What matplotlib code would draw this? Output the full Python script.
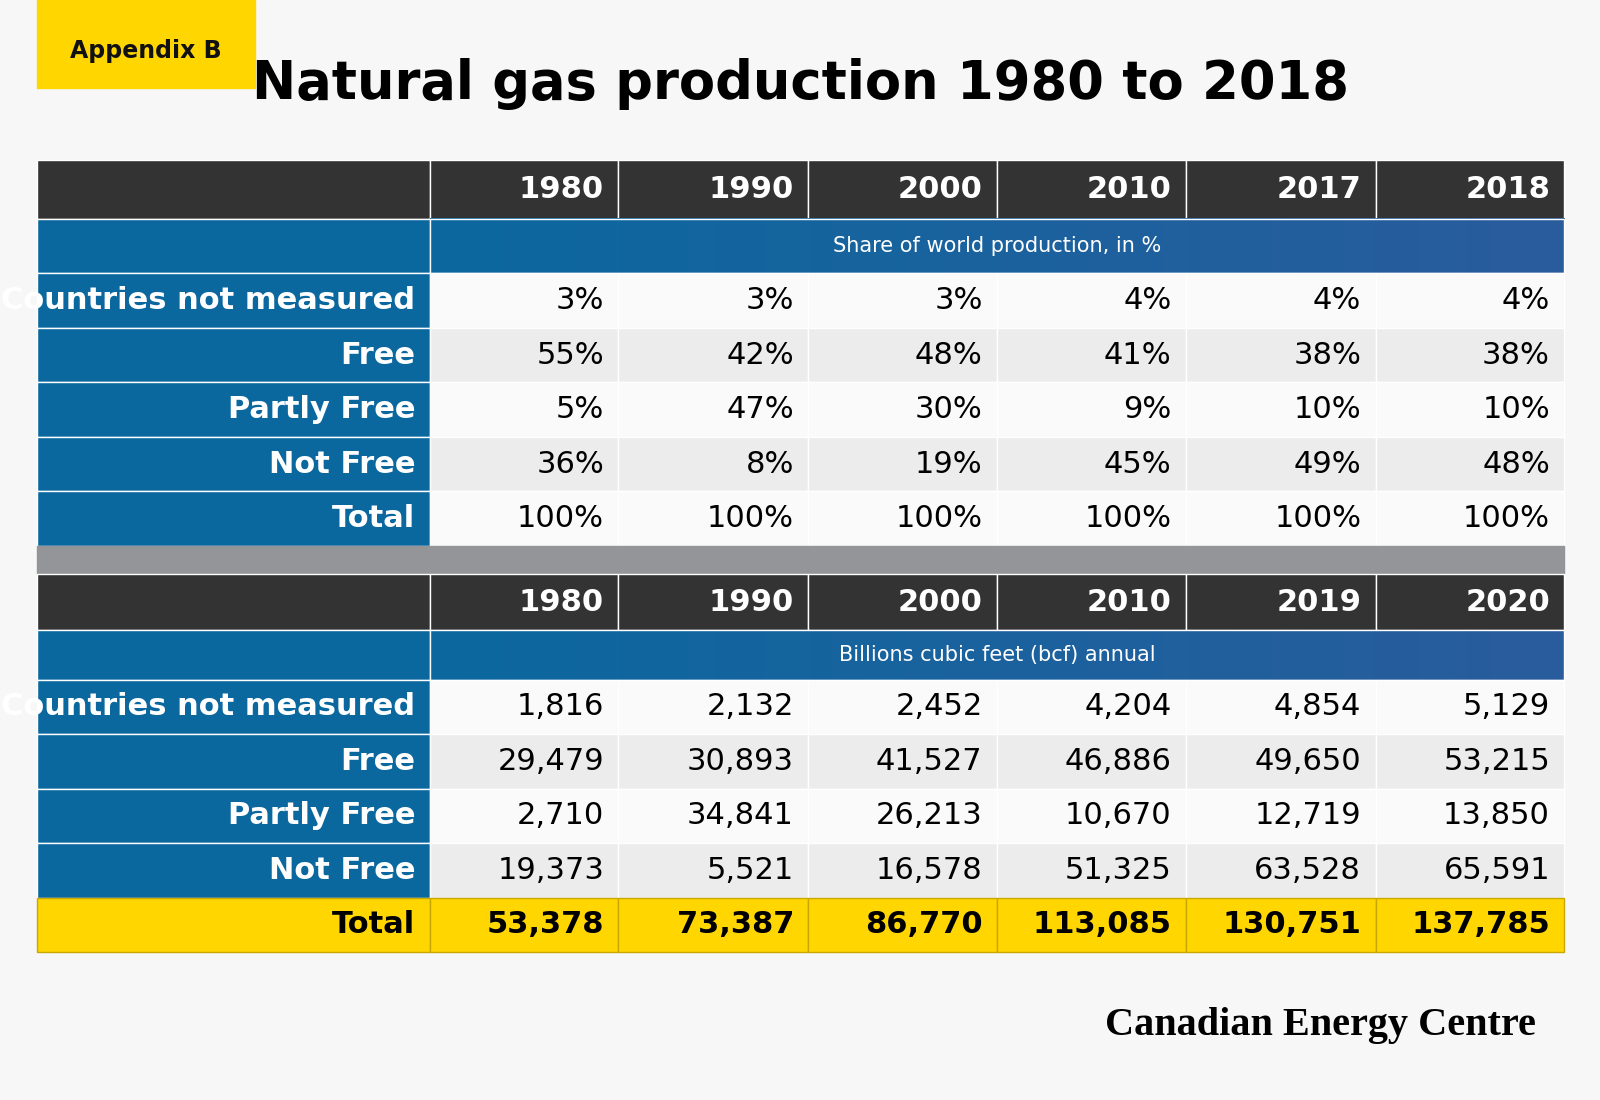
import matplotlib.pyplot as plt
from matplotlib.patches import Rectangle
import numpy as np

years_top = ['1980', '1990', '2000', '2010', '2017', '2018']
years_bot = ['1980', '1990', '2000', '2010', '2019', '2020']
row_labels = ['Countries not measured', 'Free', 'Partly Free', 'Not Free', 'Total']
share = [
    ['3%', '3%', '3%', '4%', '4%', '4%'],
    ['55%', '42%', '48%', '41%', '38%', '38%'],
    ['5%', '47%', '30%', '9%', '10%', '10%'],
    ['36%', '8%', '19%', '45%', '49%', '48%'],
    ['100%', '100%', '100%', '100%', '100%', '100%'],
]
bcf = [
    [1816, 2132, 2452, 4204, 4854, 5129],
    [29479, 30893, 41527, 46886, 49650, 53215],
    [2710, 34841, 26213, 10670, 12719, 13850],
    [19373, 5521, 16578, 51325, 63528, 65591],
    [53378, 73387, 86770, 113085, 130751, 137785],
]

W, H = 1568, 1078
BG = '#f7f7f7'
DARK = '#333333'
BLUE = '#0b689f'
GRAY = '#939598'
YEL = '#ffd600'
NARROW = ['Liberation Sans Narrow', 'DejaVu Sans']

fig = plt.figure(figsize=(16, 11), dpi=100)
fig.patch.set_facecolor(BG)
ax = fig.add_axes([0, 0, 1, 1])
ax.set_xlim(0, W)
ax.set_ylim(H, 0)
ax.axis('off')

xs = [36, 421, 606, 792, 977, 1162, 1348, 1533]

def rect(x0, y0, x1, y1, c, ec='white', lw=1):
    ax.add_patch(Rectangle((x0, y0), x1 - x0, y1 - y0, facecolor=c, edgecolor=ec, lw=lw))

def gradient(x0, y0, x1, y1):
    g = np.linspace(0, 1, 256).reshape(1, -1)
    c0 = np.array([0x0b, 0x68, 0x9f]) / 255
    c1 = np.array([0x2a, 0x5c, 0x9c]) / 255
    img = c0[None, None, :] * (1 - g[..., None]) + c1[None, None, :] * g[..., None]
    ax.imshow(img, extent=(x0, x1, y1, y0), aspect='auto', zorder=1)

def block(top, years, sub, rows, heights, total_yellow):
    y = top
    # header
    hb = y + heights[0]
    rect(xs[0], y, xs[1], hb, DARK)
    for i, yr in enumerate(years):
        rect(xs[i + 1], y, xs[i + 2], hb, DARK)
        ax.text(xs[i + 2] - 14, (y + hb) / 2, yr, color='white', fontsize=22,
                fontweight='bold', family=NARROW, ha='right', va='center')
    y = hb
    sb = y + heights[1]
    rect(xs[0], y, xs[1], sb, BLUE)
    gradient(xs[1], y, xs[-1], sb)
    ax.add_patch(Rectangle((xs[1], y), xs[-1] - xs[1], sb - y, fill=False, ec='white', lw=1, zorder=2))
    ax.text((xs[1] + xs[-1]) / 2, (y + sb) / 2, sub, color='white', fontsize=15,
            ha='center', va='center', zorder=3)
    y = sb
    rh = heights[2]
    for r, (lab, vals) in enumerate(zip(row_labels, rows)):
        yb = y + rh
        is_total = r == len(rows) - 1
        if is_total and total_yellow:
            fill = YEL
            rect(xs[0], y, xs[1], yb, YEL, ec='#c8a800')
            lcol = 'black'
        else:
            fill = '#fafafa' if r % 2 == 0 else '#ececec'
            rect(xs[0], y, xs[1], yb, BLUE)
            lcol = 'white'
        ax.text(xs[1] - 14, (y + yb) / 2, lab, color=lcol, fontsize=22,
                fontweight='bold', family=NARROW, ha='right', va='center')
        for i, v in enumerate(vals):
            rect(xs[i + 1], y, xs[i + 2], yb, fill, ec='#c8a800' if fill == YEL else 'white')
            s = v if isinstance(v, str) else f'{v:,}'
            ax.text(xs[i + 2] - 14, (y + yb) / 2, s, color='black', fontsize=22,
                    fontweight='bold' if (is_total and total_yellow) else 'normal',
                    family=NARROW, ha='right', va='center')
        y = yb
    return y

end1 = block(157, years_top, 'Share of world production, in %', share, (58, 53, 53.4), False)
rect(xs[0], end1, xs[-1], 563, GRAY, ec=GRAY)
block(563, years_bot, 'Billions cubic feet (bcf) annual', bcf, (54, 49, 53.4), True)

# appendix tag
rect(36, 0, 250, 86, YEL, ec=YEL)
ax.text(143, 50, 'Appendix B', fontsize=17, fontweight='bold', ha='center', va='center', color='#111111')

ax.text(784, 82, 'Natural gas production 1980 to 2018', fontsize=38, fontweight='bold',
        family=NARROW, ha='center', va='center', color='black')

ax.text(1505, 1005, 'Canadian Energy Centre', fontsize=29, fontweight='bold',
        family=['Liberation Serif', 'DejaVu Serif'], ha='right', va='center', color='black')

fig.savefig('out.png', dpi=100, facecolor=BG)
